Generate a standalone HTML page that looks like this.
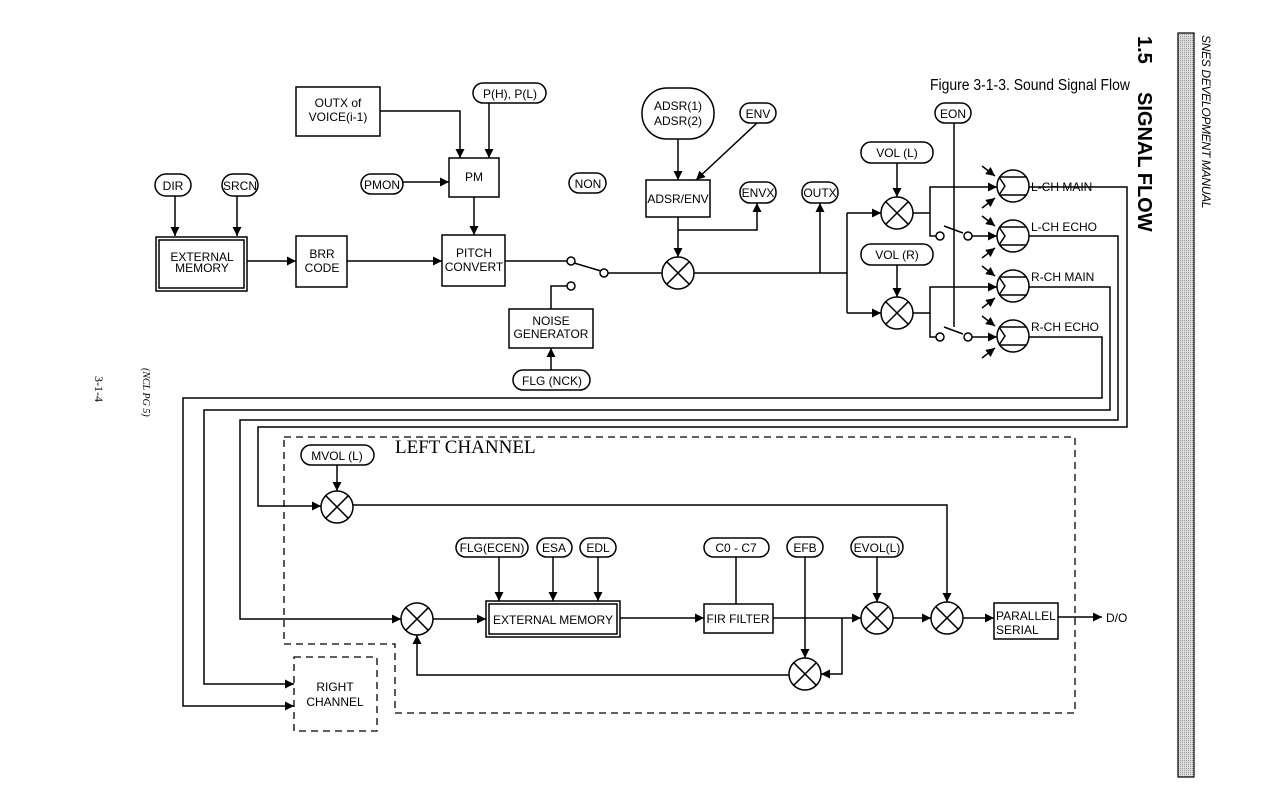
<!DOCTYPE html>
<html><head><meta charset="utf-8"><style>
html,body{margin:0;padding:0;background:#fff}
svg{display:block}
text{font-family:"Liberation Sans",sans-serif;font-size:12px;fill:#000}
</style></head><body>
<svg width="1265" height="792" viewBox="0 0 1265 792" xmlns="http://www.w3.org/2000/svg">
<defs>
<marker id="a" viewBox="0 0 10 10" refX="10" refY="5" markerWidth="9" markerHeight="9" markerUnits="userSpaceOnUse" orient="auto"><path d="M0,0L10,5L0,10z" fill="#000"/></marker>
<pattern id="dots" width="2" height="2" patternUnits="userSpaceOnUse"><rect width="2" height="2" fill="#ddd"/><rect width="1" height="1" fill="#999"/></pattern>
</defs>
<g fill="none" stroke="#000" stroke-width="1.5">
<rect x="1178" y="33" width="16" height="744" fill="url(#dots)" stroke-width="1.2"/>

<rect x="155" y="174" width="36" height="22" rx="11"/>
<rect x="222" y="174" width="36" height="22" rx="11"/>
<rect x="361" y="174" width="42" height="20" rx="10"/>
<rect x="473" y="83" width="73" height="20" rx="10"/>
<rect x="569" y="173" width="37" height="20" rx="10"/>
<rect x="642" y="88" width="72" height="51" rx="25"/>
<rect x="740" y="103" width="36" height="20" rx="10"/>
<rect x="740" y="182" width="36" height="21" rx="10"/>
<rect x="802" y="182" width="36" height="21" rx="10"/>
<rect x="513" y="370" width="77" height="20" rx="10"/>
<rect x="861" y="142" width="72" height="21" rx="10"/>
<rect x="861" y="244" width="72" height="21" rx="10"/>
<rect x="935" y="103" width="36" height="20" rx="10"/>

<rect x="156" y="237" width="91" height="54"/>
<rect x="159" y="240" width="85" height="48"/>
<rect x="296" y="236" width="51" height="51"/>
<rect x="442" y="235" width="63" height="51"/>
<rect x="296" y="87" width="84" height="49"/>
<rect x="449" y="158" width="50" height="39"/>
<rect x="509" y="309" width="84" height="39"/>
<rect x="646" y="180" width="64" height="37"/>

<path d="M175,196V236" marker-end="url(#a)"/>
<path d="M237,196V236" marker-end="url(#a)"/>
<path d="M247,261H296" marker-end="url(#a)"/>
<path d="M347,261H442" marker-end="url(#a)"/>
<path d="M380,111H460V158" marker-end="url(#a)"/>
<path d="M489,103V158" marker-end="url(#a)"/>
<path d="M403,182H449" marker-end="url(#a)"/>
<path d="M474,197V235" marker-end="url(#a)"/>
<path d="M505,261H567"/>
<circle cx="571" cy="261" r="4"/>
<path d="M574,263L601,271"/>
<circle cx="604" cy="273" r="4"/>
<circle cx="571" cy="286" r="4"/>
<path d="M567,286H551V309"/>
<path d="M551,370V348" marker-end="url(#a)"/>
<path d="M608,273H662"/>
<path d="M678,139V180" marker-end="url(#a)"/>
<path d="M757,123L696,180" marker-end="url(#a)"/>
<path d="M678,217V257" marker-end="url(#a)"/>
<path d="M678,230H757V203" marker-end="url(#a)"/>
<path d="M694,273H847"/>
<path d="M820,273V203" marker-end="url(#a)"/>
<path d="M847,213V313"/>
<path d="M847,213H881" marker-end="url(#a)"/>
<path d="M847,313H881" marker-end="url(#a)"/>
<path d="M897,163V197" marker-end="url(#a)"/>
<path d="M897,265V297" marker-end="url(#a)"/>
<path d="M913,213H930V187H997" marker-end="url(#a)"/>
<path d="M930,213V236H936"/>
<circle cx="940" cy="236" r="4"/>
<path d="M944,226L963,233"/>
<circle cx="968" cy="236" r="4"/>
<path d="M972,236H997" marker-end="url(#a)"/>
<path d="M913,313H930V287H997" marker-end="url(#a)"/>
<path d="M930,313V337H936"/>
<circle cx="940" cy="337" r="4"/>
<path d="M944,327L963,334"/>
<circle cx="968" cy="337" r="4"/>
<path d="M972,337H997" marker-end="url(#a)"/>
<path d="M954,123V327"/>

<g id="s">
<circle cx="1013" cy="186" r="16"/>
<path d="M999,177H1027M999,195H1027M999,177L1005,186L999,195"/>
<path d="M982,166L995,176" marker-end="url(#a)"/>
<path d="M982,208L995,198" marker-end="url(#a)"/>
</g>
<use href="#s" y="50"/>
<use href="#s" y="100"/>
<use href="#s" y="150"/>

<path d="M1029,187H1127V427H258V506H321" marker-end="url(#a)"/>
<path d="M1029,236H1118V420H240V619H401" marker-end="url(#a)"/>
<path d="M1029,287H1110V410H204V684H294" marker-end="url(#a)"/>
<path d="M1029,337H1102V398H183V706H294" marker-end="url(#a)"/>

<path d="M284,437H1075V713H395V644H284Z" stroke-dasharray="7,5" stroke-width="1.3"/>
<rect x="294" y="657" width="83" height="74" stroke-dasharray="7,5" stroke-width="1.3"/>
<rect x="301" y="445" width="73" height="20" rx="10"/>
<path d="M337,465V491" marker-end="url(#a)"/>
<path d="M353,505H947V602" marker-end="url(#a)"/>
<rect x="456" y="538" width="72" height="19" rx="9.5"/>
<rect x="537" y="538" width="35" height="19" rx="9.5"/>
<rect x="580" y="538" width="36" height="19" rx="9.5"/>
<rect x="704" y="538" width="65" height="19" rx="9.5"/>
<rect x="787" y="537" width="36" height="20" rx="10"/>
<rect x="851" y="537" width="52" height="20" rx="10"/>
<rect x="486" y="601" width="134" height="36"/>
<rect x="489" y="604" width="128" height="30"/>
<rect x="704" y="604" width="69" height="29"/>
<rect x="994" y="603" width="64" height="36"/>
<path d="M499,557V601" marker-end="url(#a)"/>
<path d="M553,557V601" marker-end="url(#a)"/>
<path d="M598,557V601" marker-end="url(#a)"/>
<path d="M736,557V604"/>
<path d="M433,619H486" marker-end="url(#a)"/>
<path d="M620,618H704" marker-end="url(#a)"/>
<path d="M773,618H861" marker-end="url(#a)"/>
<path d="M805,557V658" marker-end="url(#a)"/>
<path d="M877,557V602" marker-end="url(#a)"/>
<path d="M893,618H931" marker-end="url(#a)"/>
<path d="M963,618H994" marker-end="url(#a)"/>
<path d="M1058,617H1102" marker-end="url(#a)"/>
<path d="M842,618V674H821" marker-end="url(#a)"/>
<path d="M789,675H417V635" marker-end="url(#a)"/>
</g>
<g fill="none" stroke="#000" stroke-width="1.5">
<g transform="translate(678,273)"><circle r="16"/><path d="M-11.3,-11.3L11.3,11.3M11.3,-11.3L-11.3,11.3"/></g>
<g transform="translate(897,213)"><circle r="16"/><path d="M-11.3,-11.3L11.3,11.3M11.3,-11.3L-11.3,11.3"/></g>
<g transform="translate(897,313)"><circle r="16"/><path d="M-11.3,-11.3L11.3,11.3M11.3,-11.3L-11.3,11.3"/></g>
<g transform="translate(337,507)"><circle r="16"/><path d="M-11.3,-11.3L11.3,11.3M11.3,-11.3L-11.3,11.3"/></g>
<g transform="translate(417,619)"><circle r="16"/><path d="M-11.3,-11.3L11.3,11.3M11.3,-11.3L-11.3,11.3"/></g>
<g transform="translate(877,618)"><circle r="16"/><path d="M-11.3,-11.3L11.3,11.3M11.3,-11.3L-11.3,11.3"/></g>
<g transform="translate(947,618)"><circle r="16"/><path d="M-11.3,-11.3L11.3,11.3M11.3,-11.3L-11.3,11.3"/></g>
<g transform="translate(805,674)"><circle r="16"/><path d="M-11.3,-11.3L11.3,11.3M11.3,-11.3L-11.3,11.3"/></g>
</g>

<g text-anchor="middle">
<text x="173" y="190">DIR</text>
<text x="240" y="190">SRCN</text>
<text x="382" y="189">PMON</text>
<text x="510" y="98">P(H), P(L)</text>
<text x="588" y="188">NON</text>
<text x="678" y="110">ADSR(1)</text>
<text x="678" y="125">ADSR(2)</text>
<text x="758" y="118">ENV</text>
<text x="758" y="197">ENVX</text>
<text x="820" y="197">OUTX</text>
<text x="552" y="385">FLG (NCK)</text>
<text x="897" y="157">VOL (L)</text>
<text x="897" y="259">VOL (R)</text>
<text x="953" y="118">EON</text>
<text x="202" y="261">EXTERNAL</text>
<text x="202" y="272">MEMORY</text>
<text x="322" y="258">BRR</text>
<text x="322" y="272">CODE</text>
<text x="474" y="257">PITCH</text>
<text x="474" y="271">CONVERT</text>
<text x="338" y="107">OUTX of</text>
<text x="338" y="121">VOICE(i-1)</text>
<text x="474" y="181">PM</text>
<text x="551" y="325">NOISE</text>
<text x="551" y="338">GENERATOR</text>
<text x="678" y="203">ADSR/ENV</text>
<text x="337" y="460">MVOL (L)</text>
<text x="492" y="552">FLG(ECEN)</text>
<text x="554" y="552">ESA</text>
<text x="598" y="552">EDL</text>
<text x="736" y="552">C0 - C7</text>
<text x="805" y="552">EFB</text>
<text x="877" y="552">EVOL(L)</text>
<text x="553" y="624">EXTERNAL MEMORY</text>
<text x="738" y="623">FIR FILTER</text>
<text x="335" y="691">RIGHT</text>
<text x="335" y="706">CHANNEL</text>
</g>
<text x="996" y="620">PARALLEL</text>
<text x="996" y="634">SERIAL</text>
<text x="1106" y="622">D/O</text>
<text x="1031" y="191">L-CH MAIN</text>
<text x="1031" y="231">L-CH ECHO</text>
<text x="1031" y="281">R-CH MAIN</text>
<text x="1031" y="331">R-CH ECHO</text>
<text x="395" y="453" style="font-family:'Liberation Serif',serif;font-size:19px">LEFT CHANNEL</text>
<text x="930" y="90" textLength="200" lengthAdjust="spacingAndGlyphs" style="font-size:15.5px">Figure 3-1-3. Sound Signal Flow</text>
<text transform="translate(1138,36) rotate(90)" style="font-size:20px;font-weight:bold">1.5</text>
<text transform="translate(1138,92) rotate(90)" style="font-size:20px;font-weight:bold">SIGNAL FLOW</text>
<text transform="translate(1202,35) rotate(90)" style="font-size:12px;font-style:italic;letter-spacing:-0.3px">SNES DEVELOPMENT MANUAL</text>
<text transform="translate(143,368) rotate(90)" style="font-family:'Liberation Serif',serif;font-size:10px;font-style:italic">(NCL PG 5)</text>
<text transform="translate(95,376) rotate(90)" style="font-family:'Liberation Serif',serif;font-size:12px">3-1-4</text>
</svg>
</body></html>
